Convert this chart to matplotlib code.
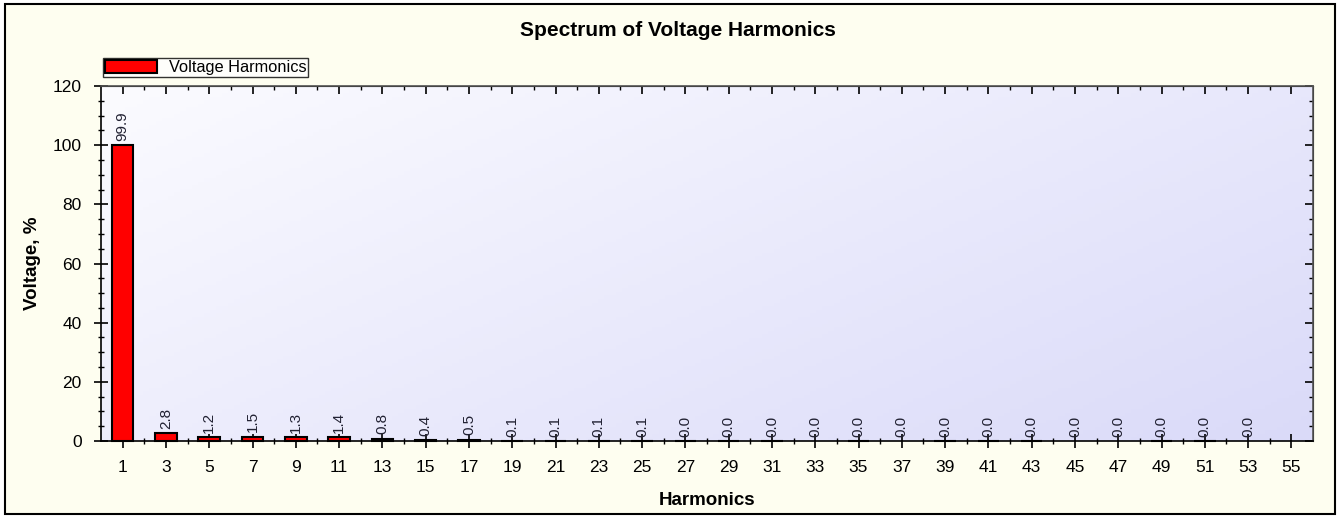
import numpy as np
import matplotlib
matplotlib.use('Agg')
import matplotlib.pyplot as plt
from matplotlib.patches import Rectangle
from matplotlib.ticker import MultipleLocator, FixedLocator

plt.rcParams['font.family'] = ['Liberation Sans', 'DejaVu Sans']

harmonics = list(range(1, 54, 2))
voltage = [99.9, 2.8, 1.2, 1.5, 1.3, 1.4, 0.8, 0.4, 0.5, 0.1, 0.1, 0.1, 0.1,
           0.04, 0.04, 0.04, 0.0, 0.04, 0.0, 0.04, 0.04, 0.04, 0.0, 0.0,
           0.04, 0.04, 0.0]
tick_labels = [str(h) for h in range(1, 56, 2)]

fig = plt.figure(figsize=(13.42, 5.17), dpi=100, facecolor='white')
# ivory panel with black border
fig.patches.append(Rectangle((5 / 1342, 3 / 517), 1330 / 1342, 510 / 517,
                             transform=fig.transFigure, facecolor='#fefef0',
                             edgecolor='black', linewidth=1.5, zorder=-5))

ax = fig.add_axes([101 / 1342, 1 - 441 / 517, 1212 / 1342, 355 / 517])

# gradient background of plot area
gx, gy = np.meshgrid(np.linspace(0, 1, 200), np.linspace(0, 1, 100))
t = (gx * 0.6 + gy * 0.4)
c0 = np.array([0.985, 0.985, 1.0])
c1 = np.array([0.855, 0.855, 0.975])
img = c0 + (c1 - c0) * t[..., None]
ax.imshow(img, extent=[0, 1, 0, 1], transform=ax.transAxes, aspect='auto',
          zorder=0, origin='upper')
ax.set_xlim(0, 56)
ax.set_ylim(0, 120)

lw = [1.5 if v > 0 else 0 for v in voltage]
bars = ax.bar(harmonics, voltage, width=1.0, color='red', edgecolor='black',
              linewidth=lw, zorder=3, clip_on=False, label='Voltage Harmonics')
ax.bar_label(bars, fmt='%.1f', padding=3, rotation=90, fontsize=11,
             color='#222233')

ax.set_xticks(range(1, 56, 2))
ax.set_xticklabels(tick_labels)
ax.xaxis.set_minor_locator(FixedLocator(range(2, 56, 2)))
ax.yaxis.set_major_locator(MultipleLocator(20))
ax.yaxis.set_minor_locator(MultipleLocator(5))
ax.tick_params(which='major', direction='inout', length=10, width=1.2,
               labelsize=12.5, colors='black')
ax.tick_params(which='minor', direction='inout', length=5, width=1)
ax.tick_params(axis='x', which='major', pad=9)
ax.tick_params(axis='y', which='major', pad=9)

for s in ax.spines.values():
    s.set_linewidth(1.2)
ax.spines['top'].set_color('#555555')
ax.spines['right'].set_color('#555555')

top = ax.secondary_xaxis('top')
top.set_xticks(range(1, 56, 2))
top.xaxis.set_minor_locator(FixedLocator(range(2, 56, 2)))
top.tick_params(which='major', direction='in', length=6, width=1.2, labeltop=False)
top.tick_params(which='minor', direction='in', length=3, width=1)
right = ax.secondary_yaxis('right')
right.yaxis.set_major_locator(MultipleLocator(20))
right.yaxis.set_minor_locator(MultipleLocator(5))
right.tick_params(which='major', direction='in', length=6, width=1.2, labelright=False)
right.tick_params(which='minor', direction='in', length=3, width=1)

ax.set_xlabel('Harmonics', fontsize=13.5, fontweight='bold', labelpad=12)
ax.set_ylabel('Voltage, %', fontsize=13.5, fontweight='bold', labelpad=8)
fig.text(0.505, 1 - 30 / 517, 'Spectrum of Voltage Harmonics', fontsize=15,
         fontweight='bold', ha='center', va='center')

leg = ax.legend(loc='lower left', bbox_to_anchor=(0.0, 1.02), fontsize=11.8,
                frameon=True, fancybox=False, borderpad=0.12, handlelength=3.2,
                handleheight=0.85, borderaxespad=0.1, handletextpad=0.7)
leg.get_frame().set_edgecolor('black')
leg.get_frame().set_linewidth(1.0)
leg.get_frame().set_facecolor('white')

fig.savefig('out.png', dpi=100, facecolor=fig.get_facecolor())
